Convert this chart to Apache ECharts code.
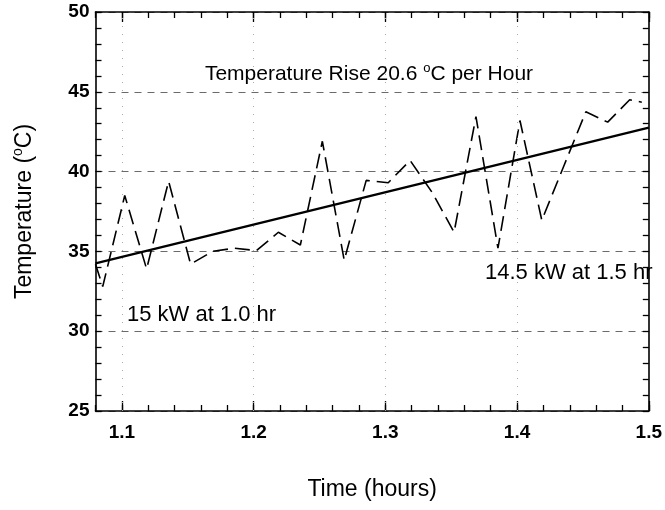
<!DOCTYPE html>
<html>
<head>
<meta charset="utf-8">
<script src="https://cdn.jsdelivr.net/npm/echarts@6/dist/echarts.min.js"></script>
<style>
html,body{margin:0;padding:0;background:#fff;}
#chart{width:665px;height:510px;}
</style>
</head>
<body>
<div id="chart"></div>
<script>
// ---- data ----
var timeHours = [1.08, 1.0855, 1.1022, 1.1188, 1.1355, 1.1522, 1.1688, 1.1855, 1.2022, 1.2188,
                 1.2355, 1.2522, 1.2688, 1.2855, 1.3022, 1.3188, 1.3355, 1.3522, 1.3688, 1.3855,
                 1.4022, 1.4188, 1.4355, 1.4522, 1.4688, 1.4855, 1.4947];
var temperature = [34.2, 32.8, 38.5, 33.9, 39.4, 34.2, 35.0, 35.2, 35.05, 36.2,
                   35.4, 41.9, 34.45, 39.45, 39.3, 40.7, 38.7, 36.2, 43.45, 35.2,
                   43.2, 36.95, 40.35, 43.75, 43.1, 44.5, 44.35];
var fitTime = [1.08, 1.5];
var fitTemp = [34.25, 42.75];
var xMajorTicks = [1.1, 1.2, 1.3, 1.4, 1.5];
var xGridTicks = [1.1, 1.2, 1.3, 1.4];
var yMajorTicks = [25, 30, 35, 40, 45, 50];
var annotations = ['Temperature Rise 20.6 ', 'C per Hour', '15 kW at 1.0 hr', '14.5 kW at 1.5 hr'];

var FONT = '"Liberation Sans", Arial, Helvetica, sans-serif';

function pairs(xs, ys) { return xs.map(function (x, i) { return [x, ys[i]]; }); }

var chart = echarts.init(document.getElementById('chart'), null, {renderer: 'canvas'});

var baseX = {type: 'value', min: 1.08, max: 1.5, axisLine: {onZero: false, lineStyle: {color: '#000', width: 1.6}},
             splitLine: {show: false}};
var baseY = {type: 'value', min: 25, max: 50, axisLine: {onZero: false, lineStyle: {color: '#000', width: 1.6}},
             splitLine: {show: false}};

var option = {
  backgroundColor: '#fff',
  animation: false,
  grid: {left: 95.5, right: 13, top: 12, bottom: 99, containLabel: false},
  xAxis: [
    Object.assign({}, baseX, {position: 'bottom', interval: 0.02,
      axisTick: {inside: true, length: 6, lineStyle: {color: '#000', width: 1.3}},
      axisLabel: {customValues: xMajorTicks, margin: 12, color: '#000', fontSize: 19, fontWeight: 'bold', fontFamily: FONT,
                  formatter: function (v) { return (Math.round(v * 10) / 10).toFixed(1); }},
      name: 'Time (hours)', nameLocation: 'middle', nameGap: 67,
      nameTextStyle: {color: '#000', fontSize: 23, fontFamily: FONT}}),
    Object.assign({}, baseX, {position: 'bottom', interval: 0.02, axisLine: {show: false, onZero: false},
      axisTick: {inside: true, length: 10, customValues: xMajorTicks, lineStyle: {color: '#000', width: 1.3}},
      axisLabel: {show: false}}),
    Object.assign({}, baseX, {position: 'top', interval: 0.02,
      axisTick: {inside: true, length: 6, lineStyle: {color: '#000', width: 1.3}},
      axisLabel: {show: false}}),
    Object.assign({}, baseX, {position: 'top', interval: 0.02, axisLine: {show: false, onZero: false},
      axisTick: {inside: true, length: 10, customValues: xMajorTicks, lineStyle: {color: '#000', width: 1.3}},
      axisLabel: {show: false}})
  ],
  yAxis: [
    Object.assign({}, baseY, {position: 'left', interval: 1,
      axisTick: {inside: true, length: 6, lineStyle: {color: '#000', width: 1.3}},
      axisLabel: {customValues: yMajorTicks, margin: 6, color: '#000', fontSize: 19, fontWeight: 'bold', fontFamily: FONT},
      name: '{a|Temperature (}{s|o}{a|C)}', nameLocation: 'middle', nameGap: 58,
      nameTextStyle: {color: '#000', fontSize: 23, fontFamily: FONT,
        rich: {a: {fontSize: 23, fontFamily: FONT, color: '#000', lineHeight: 26},
               s: {fontSize: 14, fontFamily: FONT, color: '#000', verticalAlign: 'top', lineHeight: 26}}}}),
    Object.assign({}, baseY, {position: 'left', interval: 5, axisLine: {show: false, onZero: false},
      axisTick: {show: false}, axisLabel: {show: false},
      splitLine: {show: true, lineStyle: {color: '#6a6a6a', width: 1, type: [7, 6]}}}),
    Object.assign({}, baseY, {position: 'right', interval: 1,
      axisTick: {inside: true, length: 6, lineStyle: {color: '#000', width: 1.3}},
      axisLabel: {show: false}})
  ],
  graphic: [
    {type: 'text', x: 369, y: 74, z: 10,
     style: {text: '{a|' + annotations[0] + '}{s|o}{a|' + annotations[1] + '}', align: 'center', verticalAlign: 'middle',
             rich: {a: {fontSize: 21, fontFamily: FONT, fill: '#000', lineHeight: 24},
                    s: {fontSize: 13, fontFamily: FONT, fill: '#000', verticalAlign: 'top', lineHeight: 24}}}},
    {type: 'text', x: 127, y: 315, z: 10,
     style: {text: annotations[2], fontSize: 22, fontFamily: FONT, fill: '#000', align: 'left', verticalAlign: 'middle'}},
    {type: 'text', x: 485, y: 273, z: 10,
     style: {text: annotations[3], fontSize: 22, fontFamily: FONT, fill: '#000', align: 'left', verticalAlign: 'middle'}}
  ],
  series: [
    {type: 'line', xAxisIndex: 0, yAxisIndex: 0, data: [], silent: true, symbol: 'none',
     markLine: {silent: true, symbol: 'none', label: {show: false},
                lineStyle: {color: '#aaa', width: 1, type: [1, 7]},
                data: xGridTicks.map(function (v) { return {xAxis: v}; })}},
    {type: 'line', xAxisIndex: 0, yAxisIndex: 0, data: pairs(timeHours, temperature), symbol: 'none', clip: true,
     lineStyle: {color: '#000', width: 1.6, type: [15, 7]}},
    {type: 'line', xAxisIndex: 0, yAxisIndex: 0, data: pairs(fitTime, fitTemp), symbol: 'none', clip: true,
     lineStyle: {color: '#000', width: 2.3, type: 'solid'}}
  ]
};
chart.setOption(option);
</script>
</body>
</html>
